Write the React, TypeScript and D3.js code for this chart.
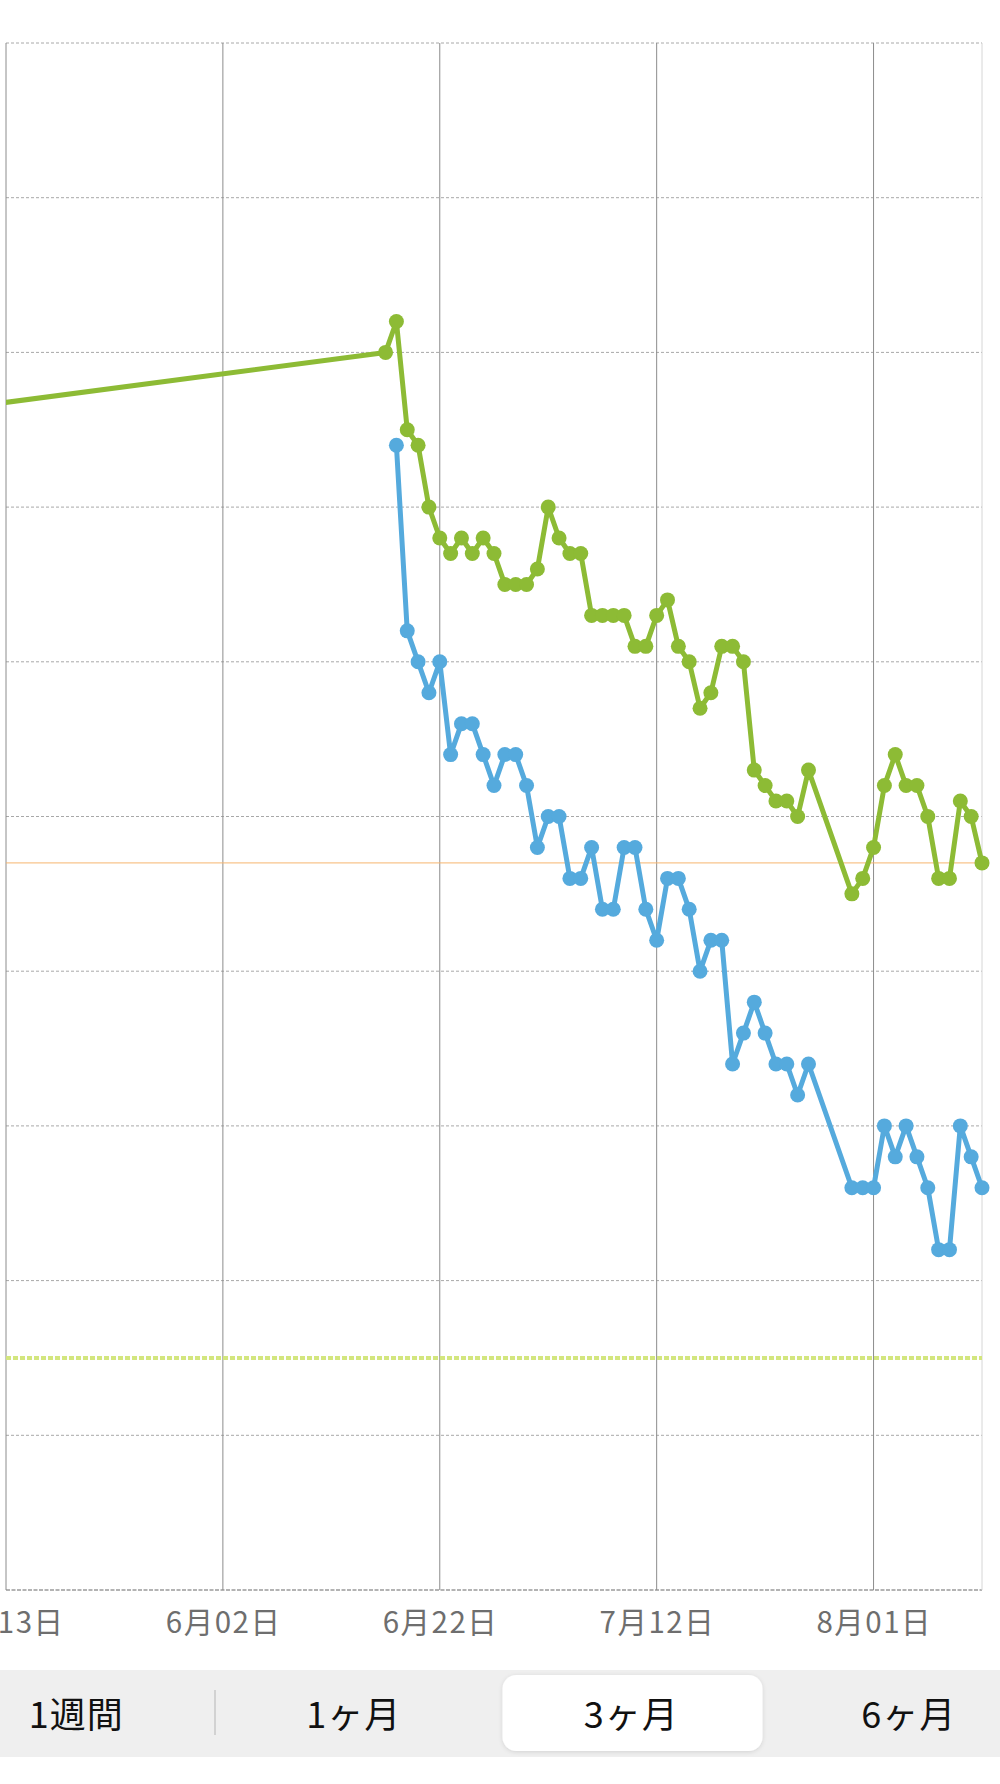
import React from "react";
import * as d3 from "d3";

// ---- data (values in chart units; gridline every 1.0) ----
const greenDates = [
  "04-13",
  "06-17","06-18","06-19","06-20","06-21","06-22","06-23","06-24","06-25","06-26",
  "06-27","06-28","06-29","06-30","07-01","07-02","07-03","07-04","07-05","07-06",
  "07-07","07-08","07-09","07-10","07-11","07-12","07-13","07-14","07-15","07-16",
  "07-17","07-18","07-19","07-20","07-21","07-22","07-23","07-24","07-25","07-26",
  "07-30","07-31","08-01","08-02","08-03","08-04","08-05","08-06","08-07","08-08",
  "08-09","08-10","08-11",
];
const greenValues = [
  57.4,
  58.0, 58.2, 57.5, 57.4, 57.0, 56.8, 56.7, 56.8, 56.7, 56.8,
  56.7, 56.5, 56.5, 56.5, 56.6, 57.0, 56.8, 56.7, 56.7, 56.3,
  56.3, 56.3, 56.3, 56.1, 56.1, 56.3, 56.4, 56.1, 56.0, 55.7,
  55.8, 56.1, 56.1, 56.0, 55.3, 55.2, 55.1, 55.1, 55.0, 55.3,
  54.5, 54.6, 54.8, 55.2, 55.4, 55.2, 55.2, 55.0, 54.6, 54.6,
  55.1, 55.0, 54.7,
];
const blueDates = [
  "06-18","06-19","06-20","06-21","06-22","06-23","06-24","06-25","06-26",
  "06-27","06-28","06-29","06-30","07-01","07-02","07-03","07-04","07-05","07-06",
  "07-07","07-08","07-09","07-10","07-11","07-12","07-13","07-14","07-15","07-16",
  "07-17","07-18","07-19","07-20","07-21","07-22","07-23","07-24","07-25","07-26",
  "07-30","07-31","08-01","08-02","08-03","08-04","08-05","08-06","08-07","08-08",
  "08-09","08-10","08-11",
];
const blueValues = [
  57.4, 56.2, 56.0, 55.8, 56.0, 55.4, 55.6, 55.6, 55.4,
  55.2, 55.4, 55.4, 55.2, 54.8, 55.0, 55.0, 54.6, 54.6, 54.8,
  54.4, 54.4, 54.8, 54.8, 54.4, 54.2, 54.6, 54.6, 54.4, 54.0,
  54.2, 54.2, 53.4, 53.6, 53.8, 53.6, 53.4, 53.4, 53.2, 53.4,
  52.6, 52.6, 52.6, 53.0, 52.8, 53.0, 52.8, 52.6, 52.2, 52.2,
  53.0, 52.8, 52.6,
];
const currentLine = 54.7;
const goalLine = 51.5;
const yTicks = [60, 59, 58, 57, 56, 55, 54, 53, 52, 51, 50];
const xTickDates = ["05-13", "06-02", "06-22", "07-12", "08-01"];
const domainStart = "05-13";
const domainEnd = "08-11";
const tabLabels = ["1週間", "1ヶ月", "3ヶ月", "6ヶ月"];
const selectedTab = 2;

const YEAR = 2023;
const parse = (s: string) => {
  const [m, d] = s.split("-").map(Number);
  return new Date(Date.UTC(YEAR, m - 1, d));
};
const fmt = (dt: Date) =>
  `${dt.getUTCMonth() + 1}月${String(dt.getUTCDate()).padStart(2, "0")}日`;

const W = 1000;
const H = 1784;
const left = 6;
const right = 982;
const top = 43;
const bottom = 1590;

export default function App() {
  const x = d3.scaleUtc().domain([parse(domainStart), parse(domainEnd)]).range([left, right]);
  const y = d3.scaleLinear().domain([60, 50]).range([top, bottom]);

  const green = greenDates.map((d, i) => ({ t: parse(d), v: greenValues[i] }));
  const blue = blueDates.map((d, i) => ({ t: parse(d), v: blueValues[i] }));
  const line = d3
    .line<{ t: Date; v: number }>()
    .x((d) => x(d.t))
    .y((d) => y(d.v));

  const greenColor = "#8dbb35";
  const blueColor = "#55aadd";
  const font = "'Noto Sans CJK JP', 'Noto Sans', sans-serif";

  const segW = 277.5;
  const seg0 = -62.5;

  return (
    <svg
      width={W}
      height={H}
      style={{ position: "absolute", left: 0, top: 0, background: "#fff" }}
    >
      <defs>
        <clipPath id="plotClip">
          <rect x={left} y={0} width={W - left} height={bottom + 10} />
        </clipPath>
        <filter id="pillShadow" x="-10%" y="-20%" width="120%" height="150%">
          <feDropShadow dx="0" dy="1" stdDeviation="2" floodColor="#000" floodOpacity="0.12" />
        </filter>
      </defs>

      {/* horizontal dotted grid */}
      {yTicks.slice(0, -1).map((t) => (
        <line
          key={t}
          x1={left}
          x2={right}
          y1={y(t)}
          y2={y(t)}
          stroke="#a8a8a8"
          strokeWidth={1}
          strokeDasharray="3 2"
        />
      ))}
      {/* bottom axis */}
      <line
        x1={left}
        x2={right}
        y1={y(50)}
        y2={y(50)}
        stroke="#9a9a9a"
        strokeWidth={1.5}
        strokeDasharray="4 1.5"
      />
      {/* vertical grid */}
      {xTickDates.map((d) => (
        <line
          key={d}
          x1={x(parse(d))}
          x2={x(parse(d))}
          y1={top}
          y2={bottom}
          stroke="#8c8c8c"
          strokeWidth={1}
        />
      ))}
      <line x1={right} x2={right} y1={top} y2={bottom} stroke="#d6d6d6" strokeWidth={1} />

      {/* reference lines */}
      <line x1={left} x2={right} y1={y(currentLine)} y2={y(currentLine)} stroke="#f6b56f" strokeWidth={1} />
      <line
        x1={left}
        x2={right}
        y1={y(goalLine)}
        y2={y(goalLine)}
        stroke="#d3e67e"
        strokeWidth={4}
        strokeDasharray="5 2"
      />

      {/* series */}
      <g clipPath="url(#plotClip)">
        <path d={line(green) || ""} fill="none" stroke={greenColor} strokeWidth={5} strokeLinejoin="round" />
        <path d={line(blue) || ""} fill="none" stroke={blueColor} strokeWidth={5} strokeLinejoin="round" />
      </g>
      {green
        .filter((d) => x(d.t) >= left)
        .map((d, i) => (
          <circle key={"g" + i} cx={x(d.t)} cy={y(d.v)} r={7.5} fill={greenColor} />
        ))}
      {blue.map((d, i) => (
        <circle key={"b" + i} cx={x(d.t)} cy={y(d.v)} r={7.5} fill={blueColor} />
      ))}

      {/* x labels */}
      {xTickDates.map((d) => (
        <text
          key={"l" + d}
          x={x(parse(d)) + 0.75}
          y={1633}
          textAnchor="middle"
          fontFamily={font}
          fontSize={29.5}
          letterSpacing={1.5}
          fill="#6e6e6e"
        >
          {fmt(parse(d))}
        </text>
      ))}

      {/* segmented control */}
      <rect x={0} y={1670} width={W} height={87} fill="#efefef" />
      <line x1={215} x2={215} y1={1690} y2={1735} stroke="#d2d2d2" strokeWidth={2} />
      <rect
        x={seg0 + segW * selectedTab + 10}
        y={1675}
        width={260}
        height={76}
        rx={14}
        fill="#fff"
        filter="url(#pillShadow)"
      />
      {tabLabels.map((t, i) => (
        <text
          key={t}
          x={seg0 + segW * (i + 0.5)}
          y={1728}
          textAnchor="middle"
          fontFamily={font}
          fontSize={36}
          fontWeight={400}
          letterSpacing={1}
          fill="#111"
        >
          {t}
        </text>
      ))}
    </svg>
  );
}
